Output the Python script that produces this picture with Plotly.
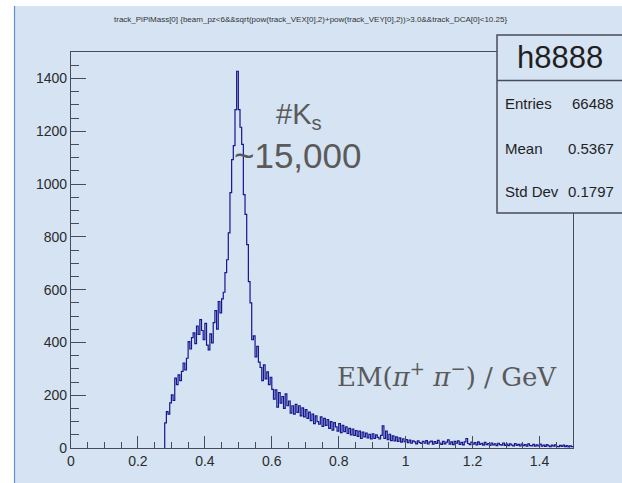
import plotly.graph_objects as go

# ---- histogram contents: track_PiPiMass[0], 0.005 GeV bins starting at 0.28 ----
bin_start = 0.28
bin_width = 0.005
counts = [
    95, 138, 128, 171, 201, 180, 265, 240, 277, 255,
    290, 322, 296, 340, 403, 375, 418, 436, 395, 462,
    430, 486, 445, 410, 472, 390, 372, 432, 398, 475,
    520, 450, 555, 512, 565, 590, 664, 713, 815, 967,
    1092, 1145, 1282, 1427, 1282, 1215, 1150, 960, 885, 770,
    630, 550, 410, 425, 345, 385, 325, 305, 255, 315,
    262, 288, 240, 268, 222, 185, 220, 155, 210, 170,
    195, 150, 205, 160, 178, 132, 160, 128, 165, 135,
    160, 122, 152, 118, 145, 112, 136, 104, 128, 92,
    122, 100, 90, 118, 82, 112, 86, 108, 74, 100,
    68, 96, 80, 64, 92, 58, 86, 62, 80, 55,
    74, 50, 72, 48, 66, 44, 64, 36, 60, 42,
    56, 38, 52, 34, 54, 36, 50, 40, 34, 48,
    84, 36, 64, 32, 52, 28, 46, 27, 42, 25,
    38, 22, 35, 24, 32, 20, 30, 18, 27, 23,
    16, 27, 20, 17, 25, 18, 28, 16, 23, 26,
    15, 24, 17, 29, 19, 14, 25, 16, 22, 31,
    15, 23, 13, 25, 18, 27, 14, 21, 12, 23,
    36, 17, 13, 22, 15, 20, 12, 23, 14, 18,
    11, 21, 13, 17, 10, 19, 12, 16, 9, 18,
    13, 11, 19, 10, 15, 9, 16, 11, 8, 17,
    10, 14, 8, 15, 9, 13, 7, 16, 9, 8,
    14, 7, 12, 8, 15, 7, 11, 6, 13, 8,
    5, 11, 7, 12, 6, 5, 10, 6, 11, 5,
    9, 4, 8, 5,
]

hist_name = "h8888"
stat_labels = ["Entries", "Mean", "Std Dev"]
stat_values = ["66488", "0.5367", "0.1797"]
title_text = ("track_PiPiMass[0] {beam_pz<6&&sqrt(pow(track_VEX[0],2)+"
              "pow(track_VEY[0],2))>3.0&&track_DCA[0]<10.25}")

x_range = [0, 1.5]
y_range = [0, 1500]

# ---- step outline (ROOT-style histogram) ----
low_edges = [bin_start + i * bin_width for i in range(len(counts))]
last_edge = bin_start + len(counts) * bin_width
step_x = [bin_start] + low_edges + [last_edge]
step_y = [0] + counts + [counts[-1]]

BG = "#d5e3f3"
AXIS = "#484c58"
TXT = "#2b2b2b"
GRAY = "#5a5a5a"

W, H = 622, 483
L, R, T, B = 71, 49, 52, 35
PW, PH = W - L - R, H - T - B


def px(xp):
    return (xp - L) / PW


def py(yp):
    return (H - B - yp) / PH


fig = go.Figure()
fig.add_trace(go.Scatter(
    x=step_x, y=step_y, mode="lines", line_shape="hv",
    line=dict(color="#16178f", width=1.2), hoverinfo="skip", showlegend=False,
))

axis_common = dict(
    showgrid=False, zeroline=False, showline=True, mirror=True,
    linecolor=AXIS, linewidth=1.3, ticks="inside", tickcolor=AXIS,
    tickwidth=1.2, tickfont=dict(family="Liberation Sans, Arial", size=14, color=TXT),
)

fig.update_xaxes(range=x_range, tick0=0, dtick=0.2, ticklen=12,
                 minor=dict(ticks="inside", dtick=0.05, ticklen=6,
                            tickcolor=AXIS, tickwidth=1.1),
                 **axis_common)
fig.update_yaxes(range=y_range, tick0=0, dtick=200, ticklen=15,
                 minor=dict(ticks="inside", dtick=50, ticklen=8,
                            tickcolor=AXIS, tickwidth=1.1),
                 **axis_common)

shapes = [
    # page edges
    dict(type="rect", xref="paper", yref="paper", x0=px(-5), x1=px(14), y0=py(H + 5),
         y1=py(-5), fillcolor="white", line_width=0, layer="below"),
    dict(type="rect", xref="paper", yref="paper", x0=px(-5), x1=px(W + 5), y0=py(6),
         y1=py(-5), fillcolor="white", line_width=0, layer="below"),
    dict(type="line", xref="paper", yref="paper", x0=px(14.5), x1=px(14.5), y0=py(H + 5),
         y1=py(6), line=dict(color="#5d8fd3", width=1.2)),
    # statistics box
    dict(type="rect", xref="paper", yref="paper", x0=px(497), x1=px(640), y0=py(213),
         y1=py(35), fillcolor=BG, line=dict(color=AXIS, width=1.5)),
    dict(type="line", xref="paper", yref="paper", x0=px(497), x1=px(640), y0=py(80.5),
         y1=py(80.5), line=dict(color=AXIS, width=1.3)),
]

annotations = [
    dict(text=title_text, x=px(310), y=py(19), xref="paper", yref="paper",
         showarrow=False, xanchor="center", yanchor="middle",
         font=dict(family="Liberation Sans, Arial", size=8, color="#333333")),
    dict(text=hist_name, x=px(560), y=py(58), xref="paper", yref="paper",
         showarrow=False, xanchor="center", yanchor="middle",
         font=dict(family="Liberation Sans, Arial", size=31, color="#1f1f1f")),
    dict(text="#K<sub>s</sub>", x=px(274), y=py(116), xref="paper", yref="paper",
         showarrow=False, xanchor="left", yanchor="middle",
         font=dict(family="Liberation Sans, Arial", size=29, color=GRAY)),
    dict(text="~15,000", x=px(232), y=py(155), xref="paper", yref="paper",
         showarrow=False, xanchor="left", yanchor="middle",
         font=dict(family="Liberation Sans, Arial", size=35, color=GRAY)),
    dict(text="EM(<i>π</i><sup>+</sup> <i>π</i><sup>−</sup>) / GeV", x=px(335), y=py(375),
         xref="paper", yref="paper", showarrow=False, xanchor="left", yanchor="middle",
         font=dict(family="DejaVu Serif", size=26, color=GRAY)),
]
for lab, val, yy in zip(stat_labels, stat_values, [103, 148, 192]):
    annotations.append(dict(text=lab, x=px(503), y=py(yy), xref="paper", yref="paper",
                            showarrow=False, xanchor="left", yanchor="middle",
                            font=dict(family="Liberation Sans, Arial", size=15, color="#1f1f1f")))
    annotations.append(dict(text=val, x=px(616), y=py(yy), xref="paper", yref="paper",
                            showarrow=False, xanchor="right", yanchor="middle",
                            font=dict(family="Liberation Sans, Arial", size=15, color="#1f1f1f")))

fig.update_layout(
    width=W, height=H,
    margin=dict(l=L, r=R, t=T, b=B, pad=0),
    paper_bgcolor=BG, plot_bgcolor=BG,
    shapes=shapes, annotations=annotations,
    showlegend=False,
)

fig.write_html("out.html", config={"displayModeBar": False})
